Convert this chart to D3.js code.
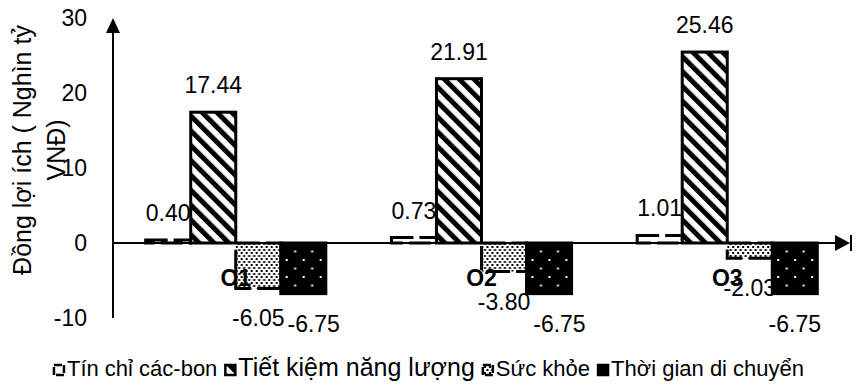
<!DOCTYPE html>
<html>
<head>
<meta charset="utf-8">
<script src="https://cdn.jsdelivr.net/npm/d3@7"></script>
<style>
body { margin: 0; background: #fff; }
text { font-family: "Liberation Sans", Arial, sans-serif; fill: #000; }
</style>
</head>
<body>
<script>
var categories = ["O1", "O2", "O3"];
var seriesNames = ["Tín chỉ các-bon", "Tiết kiệm năng lượng", "Sức khỏe", "Thời gian di chuyển"];
var tinChi = [0.40, 0.73, 1.01];
var tietKiem = [17.44, 21.91, 25.46];
var sucKhoe = [-6.05, -3.80, -2.03];
var thoiGian = [-6.75, -6.75, -6.75];
var yTicks = [-10, 0, 10, 20, 30];
var yTitle = ["Đồng lợi ích ( Nghìn tỷ", "VNĐ)"];

var seriesValues = [tinChi, tietKiem, sucKhoe, thoiGian];
var table = categories.map(function (c, i) {
    return {
        cat: c,
        values: seriesNames.map(function (s, j) { return { key: s, value: seriesValues[j][i] }; })
    };
});

// plain hyphen for negatives, like the original
var locale = d3.formatLocale({ decimal: ".", thousands: ",", grouping: [3], currency: ["", ""], minus: "-" });
var fmt2 = locale.format(".2f");
var fmt0 = locale.format("d");

var width = 857, height = 389;
var margin = { top: 18, right: 7, bottom: 71, left: 113 };

var x0 = d3.scaleBand().domain(categories)
    .range([margin.left, width - margin.right])
    .paddingInner(0.267).paddingOuter(0.133);
var x1 = d3.scaleBand().domain(seriesNames).range([0, x0.bandwidth()]);
var y = d3.scaleLinear().domain([-10, 30]).range([height - margin.bottom, margin.top]);

var svg = d3.select("body").append("svg")
    .attr("width", width)
    .attr("height", height);

var defs = svg.append("defs");

// diagonal hatch
var hatch = defs.append("pattern").attr("id", "p-hatch")
    .attr("patternUnits", "userSpaceOnUse").attr("width", 10.5).attr("height", 10.5)
    .attr("patternTransform", "rotate(-45)");
hatch.append("rect").attr("width", 10.5).attr("height", 10.5).attr("fill", "#fff");
hatch.append("rect").attr("width", 5).attr("height", 10.5).attr("fill", "#000");

// fine dots
var dots = defs.append("pattern").attr("id", "p-dots")
    .attr("patternUnits", "userSpaceOnUse").attr("width", 5).attr("height", 6);
dots.append("rect").attr("width", 5).attr("height", 6).attr("fill", "#fff");
dots.append("rect").attr("width", 2).attr("height", 2).attr("fill", "#000");
dots.append("rect").attr("x", 2.5).attr("y", 3).attr("width", 2).attr("height", 2).attr("fill", "#000");

// black with white dots
var blk = defs.append("pattern").attr("id", "p-black")
    .attr("patternUnits", "userSpaceOnUse").attr("width", 17).attr("height", 17)
    .attr("x", 4).attr("y", 4);
blk.append("rect").attr("width", 17).attr("height", 17).attr("fill", "#000");
blk.append("rect").attr("width", 2).attr("height", 2).attr("fill", "#fff");
blk.append("rect").attr("x", 8.5).attr("y", 8.5).attr("width", 2).attr("height", 2).attr("fill", "#fff");

var styles = {
    "Tín chỉ các-bon": { fill: "#fff", dash: "22,6" },
    "Tiết kiệm năng lượng": { fill: "url(#p-hatch)", dash: null },
    "Sức khỏe": { fill: "url(#p-dots)", dash: "24,6" },
    "Thời gian di chuyển": { fill: "url(#p-black)", dash: null }
};

// bars
var groups = svg.selectAll("g.group")
    .data(table)
    .enter().append("g")
    .attr("class", "group")
    .attr("transform", d => "translate(" + x0(d.cat) + ",0)");

groups.selectAll("rect")
    .data(d => d.values)
    .enter().append("rect")
    .attr("x", d => x1(d.key))
    .attr("width", x1.bandwidth())
    .attr("y", d => y(Math.max(0, d.value)))
    .attr("height", d => Math.abs(y(d.value) - y(0)))
    .attr("fill", d => styles[d.key].fill)
    .attr("stroke", "#000")
    .attr("stroke-width", 3)
    .attr("stroke-dasharray", d => styles[d.key].dash);

// axes
svg.append("line")
    .attr("x1", margin.left).attr("x2", 836)
    .attr("y1", y(0)).attr("y2", y(0))
    .attr("stroke", "#000").attr("stroke-width", 2);
svg.append("path")
    .attr("d", "M835," + (y(0) - 8) + "L850," + y(0) + "L835," + (y(0) + 8) + "Z")
    .attr("fill", "#000");
svg.append("line")
    .attr("x1", 851).attr("x2", 851)
    .attr("y1", y(0) - 8).attr("y2", y(0) + 8)
    .attr("stroke", "#000").attr("stroke-width", 2);

svg.append("line")
    .attr("x1", margin.left).attr("x2", margin.left)
    .attr("y1", y(-10)).attr("y2", y(30) + 14)
    .attr("stroke", "#000").attr("stroke-width", 2);
svg.append("path")
    .attr("d", "M" + (margin.left - 7) + "," + (y(30) + 15) + "L" + margin.left + "," + y(30) + "L" + (margin.left + 7) + "," + (y(30) + 15) + "Z")
    .attr("fill", "#000");

var yAxis = svg.append("g")
    .attr("transform", "translate(" + margin.left + ",0)")
    .call(d3.axisLeft(y).tickValues(yTicks).tickSize(0).tickPadding(26).tickFormat(fmt0));
yAxis.select(".domain").remove();
yAxis.selectAll("text")
    .style("font-family", "'Liberation Sans', Arial, sans-serif")
    .style("font-size", "23px")
    .attr("fill", "#000");

// y title
var title = svg.append("g").attr("transform", "translate(0," + 150 + ") rotate(-90)");
title.selectAll("text")
    .data(yTitle)
    .enter().append("text")
    .attr("x", 0)
    .attr("y", (d, i) => 31 + i * 34)
    .attr("text-anchor", "middle")
    .style("font-size", "25px")
    .text(d => d);

// category labels
svg.selectAll("text.cat")
    .data(categories)
    .enter().append("text")
    .attr("class", "cat")
    .attr("x", d => x0(d) + x0.bandwidth() / 2)
    .attr("y", 286)
    .attr("text-anchor", "middle")
    .style("font-size", "23px")
    .style("font-weight", "bold")
    .text(d => d);

// value labels
groups.each(function (g) {
    var grp = d3.select(this);
    var prev = null;
    g.values.forEach(function (d) {
        var t = grp.append("text")
            .attr("x", x1(d.key) + x1.bandwidth() / 2)
            .attr("y", d.value >= 0 ? y(d.value) - 19 : y(d.value) + 38)
            .attr("text-anchor", "middle")
            .style("font-size", "23px")
            .text(fmt2(d.value));
        if (d.value < 0) {
            var b = t.node().getBBox();
            if (prev && Math.abs(b.y - prev.y) < 30 && b.x < prev.x + prev.width + 3) {
                t.attr("x", +t.attr("x") + (prev.x + prev.width + 3 - b.x));
                b = t.node().getBBox();
            }
            prev = b;
        }
    });
});

// legend
var legend = svg.append("g");
var lx = 0;
seriesNames.forEach(function (s, i) {
    legend.append("rect")
        .attr("x", lx).attr("y", 365)
        .attr("width", 10).attr("height", 10)
        .attr("fill", styles[s].fill)
        .attr("stroke", "#000").attr("stroke-width", 2.5)
        .attr("stroke-dasharray", styles[s].dash ? "8,2" : null);
    var t = legend.append("text")
        .attr("x", lx + 13).attr("y", 376)
        .style("font-size", i === 1 ? "25px" : "22px")
        .text(s);
    lx += 13 + t.node().getComputedTextLength() + 8;
});
legend.attr("transform", "translate(" + (429 - (lx - 8) / 2) + ",0)");
</script>
</body>
</html>
